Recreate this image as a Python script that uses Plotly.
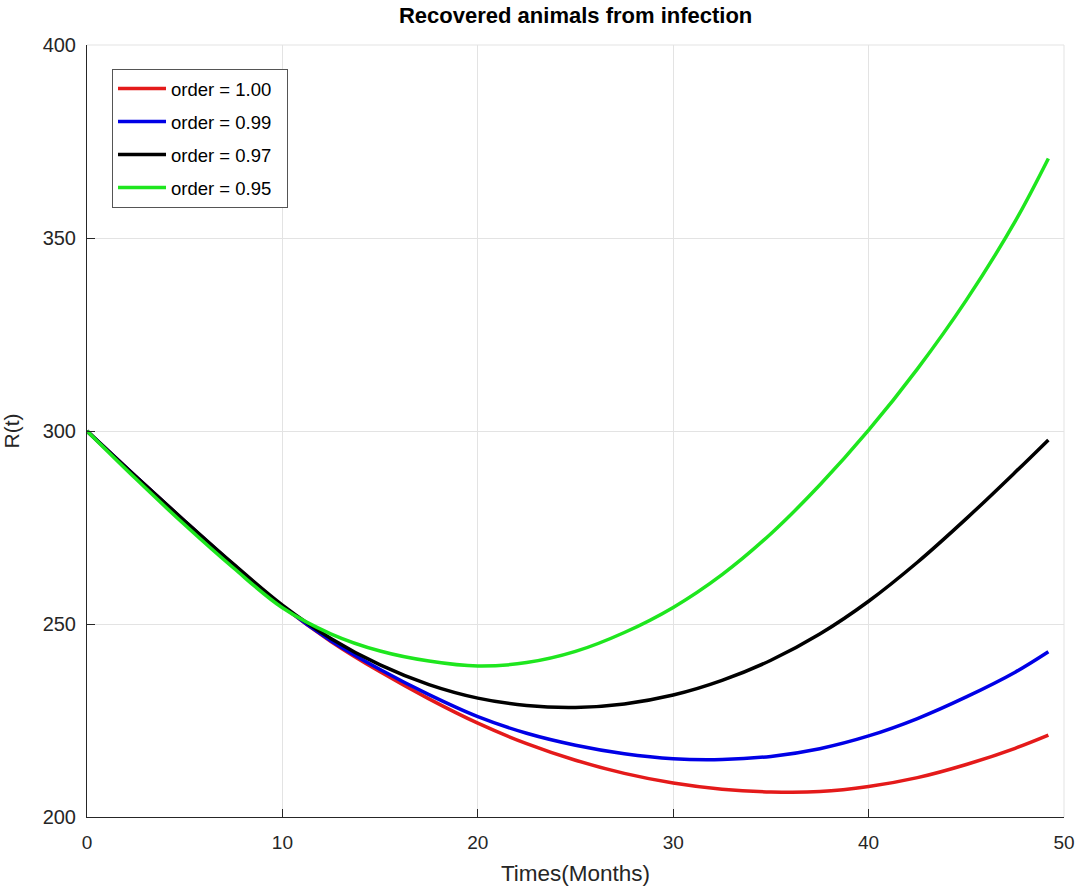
import plotly.graph_objects as go

# Time points (months)
t = [0, 2.5, 5, 7.5, 10, 12.5, 15, 17.5, 20, 22.5, 25, 27.5, 30, 32.5, 35, 37.5, 40, 42.5, 45, 47.5, 49.2]

r_100 = [300, 288.2, 276.6, 265.3, 254.6, 245.4, 237.6, 230.6, 224.3, 219.0, 214.7,
         211.3, 208.8, 207.2, 206.5, 206.6, 207.9, 210.2, 213.6, 217.8, 221.2]
r_099 = [300, 288.2, 276.6, 265.3, 254.6, 245.6, 238.2, 231.7, 226.0, 221.7, 218.6,
         216.4, 215.1, 214.9, 215.7, 217.7, 221.0, 225.5, 231.1, 237.5, 242.8]
r_097 = [300, 288.2, 276.7, 265.5, 254.9, 246.2, 239.4, 234.3, 230.8, 228.9, 228.4,
         229.3, 231.6, 235.4, 240.6, 247.4, 255.9, 266.0, 277.3, 289.3, 297.7]
r_095 = [300, 287.6, 275.7, 264.5, 254.2, 247.4, 243.0, 240.4, 239.1, 240.0, 242.9,
         247.8, 254.3, 262.8, 273.4, 286.0, 300.2, 316.1, 333.9, 354.3, 370.6]

names = ["order = 1.00", "order = 0.99", "order = 0.97", "order = 0.95"]
colors = ["#e41a1a", "#0000e6", "#000000", "#1ee61e"]
series = [r_100, r_099, r_097, r_095]

x_ticks = [0, 10, 20, 30, 40, 50]
y_ticks = [200, 250, 300, 350, 400]

fig = go.Figure()
for i, (name, col, ys) in enumerate(zip(names, colors, series)):
    fig.add_trace(go.Scatter(x=t, y=ys, mode="lines", name=name + "\u00a0\u00a0", legendgroup=f"g{i}",
                             line=dict(color=col, width=3.5, shape="spline", smoothing=1.0)))

font = "Liberation Sans, Arial, sans-serif"
fig.update_layout(
    width=1076, height=886,
    margin=dict(l=87, r=12, t=45, b=69),
    paper_bgcolor="white", plot_bgcolor="white",
    title=dict(text="<b>Recovered animals from infection</b>", x=0.535, xanchor="center",
               y=0.983, yanchor="middle", font=dict(family=font, size=22, color="black")),
    font=dict(family=font, color="#262626"),
    legend=dict(x=0.0256, y=0.9690, xanchor="left", yanchor="top",
                bgcolor="white", bordercolor="#555555", borderwidth=1,
                font=dict(family=font, size=18.5, color="black"),
                tracegroupgap=6, itemwidth=48),
    xaxis=dict(range=[0, 50], tickvals=x_ticks, ticks="inside", ticklen=8, tickcolor="#262626",
               showline=True, linecolor="#262626", linewidth=1, automargin=False,
               showgrid=True, gridcolor="#e3e3e3", zeroline=False, ticklabelstandoff=8,
               tickfont=dict(family=font, size=19, color="#262626"),
               title=dict(text="Times(Months)", font=dict(family=font, size=22.5, color="#262626"), standoff=15)),
    yaxis=dict(range=[200, 400], tickvals=y_ticks, ticks="inside", ticklen=8, tickcolor="#262626",
               showline=True, linecolor="#262626", linewidth=1, automargin=False,
               showgrid=True, gridcolor="#e3e3e3", zeroline=False, ticklabelstandoff=6,
               tickfont=dict(family=font, size=20, color="#262626"),
               title=dict(text="R(t)", font=dict(family=font, size=21, color="#262626"), standoff=24)),
    showlegend=True,
)

# light border on top and right (as in the reference)
fig.add_shape(type="line", xref="paper", yref="paper", x0=0, x1=1, y0=1, y1=1,
              line=dict(color="#e3e3e3", width=1), layer="below")
fig.add_shape(type="line", xref="paper", yref="paper", x0=1, x1=1, y0=0, y1=1,
              line=dict(color="#e3e3e3", width=1), layer="below")

fig.write_html("out.html", config={"displayModeBar": False},
               post_script="document.body.style.margin='0';")
